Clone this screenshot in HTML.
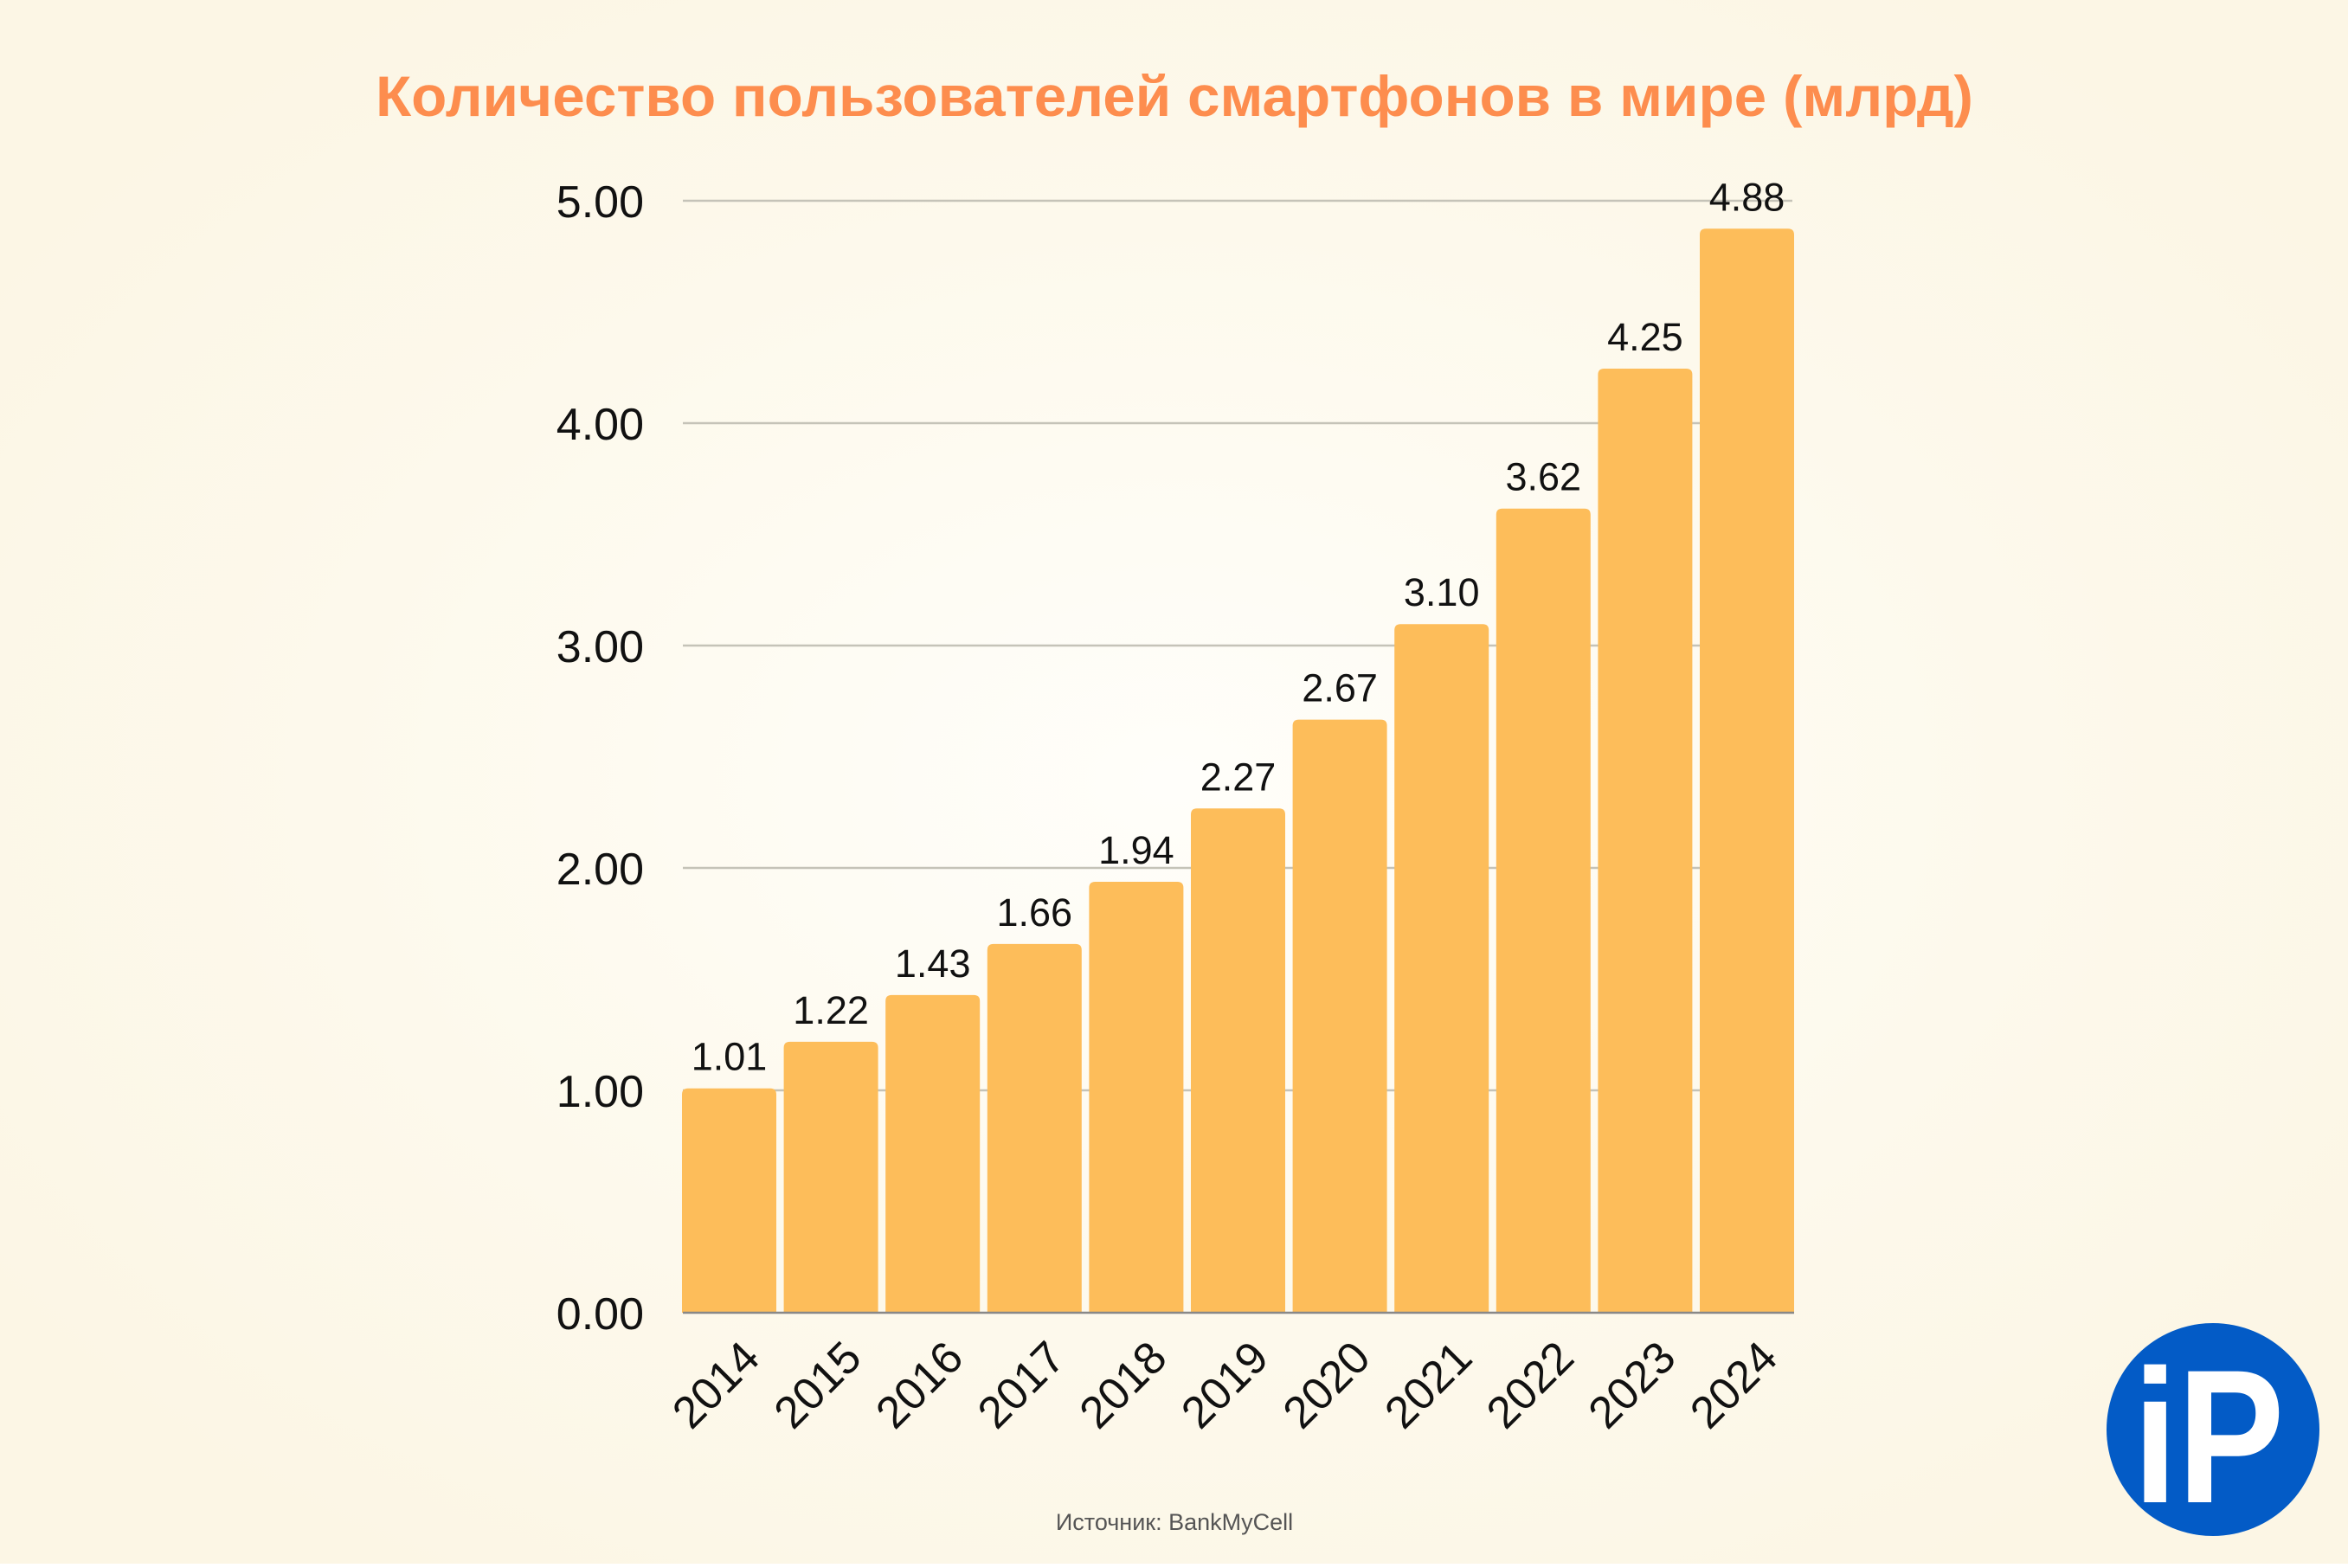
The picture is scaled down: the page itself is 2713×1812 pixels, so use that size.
<!DOCTYPE html>
<html><head><meta charset="utf-8"><style>
html,body{margin:0;padding:0;}
body{width:2713px;height:1807px;overflow:hidden;}
</style></head><body>
<svg width="2713" height="1807" viewBox="0 0 2713 1807" xmlns="http://www.w3.org/2000/svg">
<defs>
<radialGradient id="bg" cx="50%" cy="50%" r="60%">
<stop offset="0" stop-color="#fffefa"/>
<stop offset="0.6" stop-color="#fdf9ec"/>
<stop offset="1" stop-color="#fcf6e5"/>
</radialGradient>
</defs>
<rect width="2713" height="1807" fill="url(#bg)"/>
<text x="1357" y="134" text-anchor="middle" font-family="Liberation Sans, sans-serif" font-weight="bold" font-size="66" fill="#fd8d4e" textLength="1846" lengthAdjust="spacingAndGlyphs">Количество пользователей смартфонов в мире (млрд)</text>
<g stroke="#c5c3b8" stroke-width="2.5">
<line x1="789" y1="232" x2="2071" y2="232"/>
<line x1="789" y1="489" x2="2071" y2="489"/>
<line x1="789" y1="746" x2="2071" y2="746"/>
<line x1="789" y1="1003" x2="2071" y2="1003"/>
<line x1="789" y1="1260" x2="2071" y2="1260"/>
</g>
<g font-family="Liberation Sans, sans-serif" font-size="52" fill="#111" text-anchor="end">
<text x="744" y="251">5.00</text>
<text x="744" y="508">4.00</text>
<text x="744" y="765">3.00</text>
<text x="744" y="1022">2.00</text>
<text x="744" y="1279">1.00</text>
<text x="744" y="1536">0.00</text>
</g>
<g fill="#fdbd5a" id="bars"></g>
<line x1="789" y1="1517" x2="2073" y2="1517" stroke="#888" stroke-width="2.5"/>
<g id="vals" font-family="Liberation Sans, sans-serif" font-size="45" fill="#111" text-anchor="middle"></g>
<g id="xl" font-family="Liberation Sans, sans-serif" font-size="52" fill="#111" text-anchor="end"></g>
<text x="1357" y="1768" text-anchor="middle" font-family="Liberation Sans, sans-serif" font-size="27" fill="#555">Источник: BankMyCell</text>
<circle cx="2557" cy="1652" r="123" fill="#035bc6"/>
<text x="2552" y="1736" text-anchor="middle" font-family="Liberation Sans, sans-serif" font-weight="bold" font-size="220" fill="#fff" textLength="175" lengthAdjust="spacingAndGlyphs">iP</text>
</svg>
<script>
var vals=[1.01,1.22,1.43,1.66,1.94,2.27,2.67,3.10,3.62,4.25,4.88];
var ns="http://www.w3.org/2000/svg";
var b=document.getElementById("bars"),v=document.getElementById("vals"),xl=document.getElementById("xl");
vals.forEach(function(d,i){
 var x=788+117.6*i, w=109, top=1517-d*256.7, r=7;
 var p=document.createElementNS(ns,"path");
 p.setAttribute("d","M"+x+","+1517+"V"+(top+r)+"Q"+x+","+top+" "+(x+r)+","+top+"H"+(x+w-r)+"Q"+(x+w)+","+top+" "+(x+w)+","+(top+r)+"V1517Z");
 b.appendChild(p);
 var t=document.createElementNS(ns,"text");
 t.setAttribute("x",x+w/2);t.setAttribute("y",top-21);t.textContent=d.toFixed(2);v.appendChild(t);
 var l=document.createElementNS(ns,"text");
 var cx=x+w/2+38, cy=1572;
 l.setAttribute("x",cx);l.setAttribute("y",cy);
 l.setAttribute("transform","rotate(-45 "+cx+" "+cy+")");
 l.textContent=2014+i;xl.appendChild(l);
});
</script>
</body></html>
